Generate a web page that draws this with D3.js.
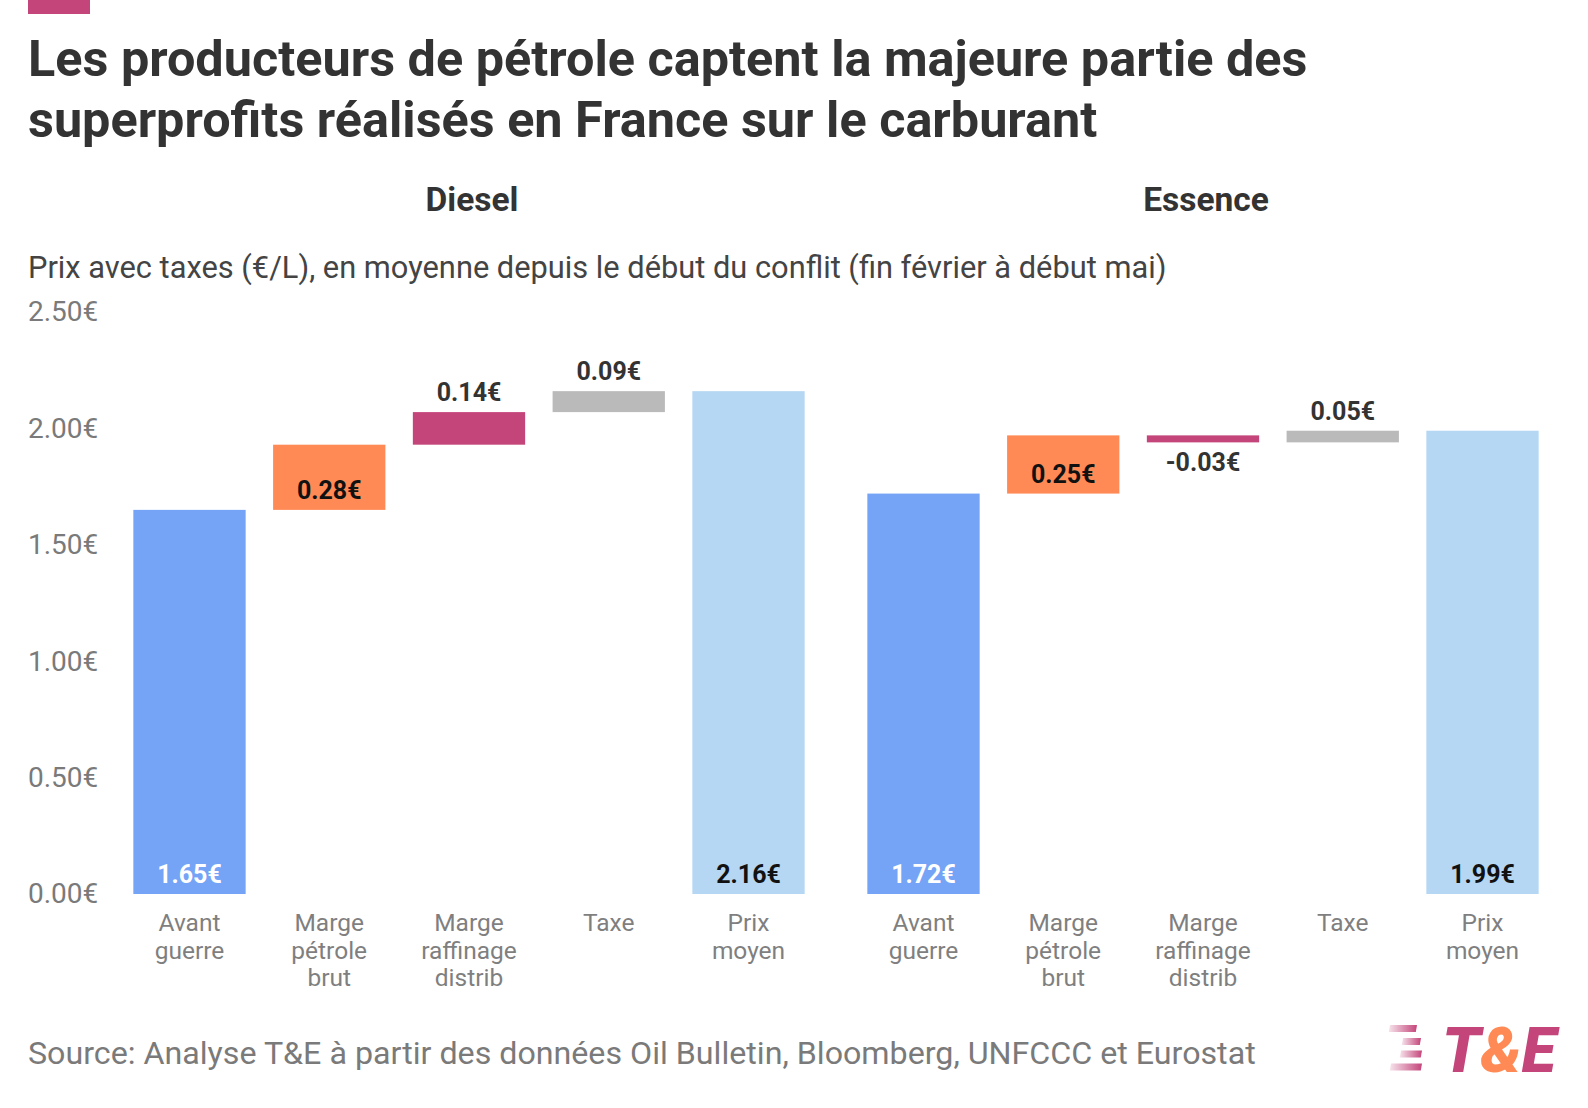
<!DOCTYPE html>
<html>
<head>
<meta charset="utf-8">
<script src="https://cdn.jsdelivr.net/npm/d3@7"></script>
<style>
  body { margin: 0; background: #fff; }
  text { font-family: Roboto, "Noto Sans", sans-serif; }
</style>
</head>
<body>
<div id="chart"></div>
<script>
const fuels = ["Diesel", "Essence"];
const steps = ["Avant guerre", "Marge pétrole brut", "Marge raffinage distrib", "Taxe", "Prix moyen"];
const stepLines = [["Avant", "guerre"], ["Marge", "pétrole", "brut"], ["Marge", "raffinage", "distrib"], ["Taxe"], ["Prix", "moyen"]];
const stepKind = ["total", "delta", "delta", "delta", "total"];
const dieselValues = [1.65, 0.28, 0.14, 0.09, 2.16];
const essenceValues = [1.72, 0.25, -0.03, 0.05, 1.99];
const yTicks = [0, 0.5, 1, 1.5, 2, 2.5];
const stepColors = ["#75a3f6", "#ff8a55", "#c4457a", "#bababa", "#b5d7f3"];
const labelColors = ["#ffffff", "#111111", "#333333", "#333333", "#111111"];

const title = ["Les producteurs de pétrole captent la majeure partie des",
               "superprofits réalisés en France sur le carburant"];
const subtitle = "Prix avec taxes (€/L), en moyenne depuis le début du conflit (fin février à début mai)";
const source = "Source: Analyse T&E à partir des données Oil Bulletin, Bloomberg, UNFCCC et Eurostat";

const width = 1588;
const height = 1108;

const svg = d3.select("#chart")
  .append("svg")
  .attr("width", width)
  .attr("height", height);

// waterfall start/end for each step
function waterfall(values) {
  let run = 0;
  return values.map((v, i) => {
    let start, end;
    if (stepKind[i] === "total") { start = 0; end = v; run = v; }
    else { start = run; end = run + v; run = end; }
    return { step: steps[i], i, value: v, start, end };
  });
}
const series = { Diesel: waterfall(dieselValues), Essence: waterfall(essenceValues) };

const y = d3.scaleLinear()
  .domain([0, 2.5])
  .range([894, 312]);

const panel = d3.scaleBand()
  .domain(fuels)
  .range([102, 1570]);

const x = d3.scaleBand()
  .domain(steps)
  .range([0, panel.bandwidth()])
  .paddingInner(0.1964)
  .paddingOuter(0.2243);

// top accent
svg.append("rect")
  .attr("x", 28).attr("y", 0)
  .attr("width", 62).attr("height", 14)
  .attr("fill", "#c4457a");

// title
svg.append("text")
  .attr("x", 28).attr("y", 76)
  .attr("font-size", "50.4px")
  .attr("font-weight", "bold")
  .attr("fill", "#333")
  .selectAll("tspan")
  .data(title)
  .join("tspan")
    .attr("x", 28)
    .attr("dy", (d, i) => i ? 61 : 0)
    .text(d => d);

svg.append("text")
  .attr("x", 28).attr("y", 278)
  .attr("font-size", "30.8px")
  .attr("fill", "#444")
  .text(subtitle);

// y axis labels (no lines)
const yAxis = svg.append("g")
  .attr("transform", "translate(28,0)")
  .call(d3.axisRight(y).tickValues(yTicks).tickSize(0).tickPadding(0)
    .tickFormat(d => d.toFixed(2) + "€"));
yAxis.select(".domain").remove();
yAxis.selectAll("text")
  .attr("font-size", "28px")
  .attr("fill", "#7a7a7a")
  .attr("dy", "0.32em")
  .style("font-family", "Roboto, sans-serif");

const panels = svg.selectAll("g.panel")
  .data(fuels)
  .join("g")
    .attr("class", "panel")
    .attr("transform", d => `translate(${panel(d)},0)`);

panels.append("text")
  .attr("x", panel.bandwidth() / 2 + 3)
  .attr("y", 211)
  .attr("text-anchor", "middle")
  .attr("font-size", "33.5px")
  .attr("font-weight", "bold")
  .attr("fill", "#333")
  .text(d => d);

panels.selectAll("rect.bar")
  .data(d => series[d])
  .join("rect")
    .attr("class", "bar")
    .attr("x", d => x(d.step))
    .attr("width", x.bandwidth())
    .attr("y", d => y(Math.max(d.start, d.end)))
    .attr("height", d => Math.abs(y(d.start) - y(d.end)))
    .attr("fill", d => stepColors[d.i]);

// value labels: inside at bottom if tall enough, otherwise outside
function barH(d) { return Math.abs(y(d.start) - y(d.end)); }
panels.selectAll("text.value")
  .data(d => series[d])
  .join("text")
    .attr("class", "value")
    .attr("x", d => x(d.step) + x.bandwidth() / 2)
    .attr("y", d => {
      const bottom = y(Math.min(d.start, d.end));
      const top = y(Math.max(d.start, d.end));
      if (barH(d) > 40) return bottom - 11;
      if (d.value < 0) return bottom + 29;
      return top - 11;
    })
    .attr("text-anchor", "middle")
    .attr("font-size", "25px")
    .attr("font-weight", "bold")
    .attr("fill", d => barH(d) > 40 ? labelColors[d.i] : "#333")
    .text(d => d.value.toFixed(2) + "€");

// category labels
const cats = panels.selectAll("text.cat")
  .data(steps)
  .join("text")
    .attr("class", "cat")
    .attr("text-anchor", "middle")
    .attr("font-size", "24.5px")
    .attr("fill", "#7f7f7f")
    .attr("y", 931);
cats.selectAll("tspan")
  .data(d => stepLines[steps.indexOf(d)].map(t => ({ t, d })))
  .join("tspan")
    .attr("x", d => x(d.d) + x.bandwidth() / 2)
    .attr("dy", (d, i) => i ? 27.5 : 0)
    .text(d => d.t);

// source
svg.append("text")
  .attr("x", 28).attr("y", 1064)
  .attr("font-size", "32.2px")
  .attr("fill", "#7a7a7a")
  .text(source);

// logo
const defs = svg.append("defs");
const grad = defs.append("linearGradient")
  .attr("id", "stripe").attr("x1", "0").attr("x2", "1");
grad.append("stop").attr("offset", "0").attr("stop-color", "#c4457a").attr("stop-opacity", 0.15);
grad.append("stop").attr("offset", "1").attr("stop-color", "#c4457a").attr("stop-opacity", 1);

const logo = svg.append("g");
[[1390, 1025, 27], [1403, 1038, 18], [1401, 1050.5, 21], [1391, 1063.5, 31]].forEach(([sx, sy, w]) => {
  logo.append("path")
    .attr("d", `M${sx},${sy}h${w}l-1.2,7h${-w}z`)
    .attr("fill", "url(#stripe)");
});
const logoText = logo.append("text")
  .attr("x", 1442).attr("y", 1072)
  .attr("font-size", "63px")
  .attr("font-weight", "900")
  .attr("font-style", "italic");
logoText.append("tspan").attr("fill", "#c4457a").text("T");
logoText.append("tspan").attr("fill", "#ff8a55").text("&");
logoText.append("tspan").attr("fill", "#c4457a").text("E");
</script>
</body>
</html>
